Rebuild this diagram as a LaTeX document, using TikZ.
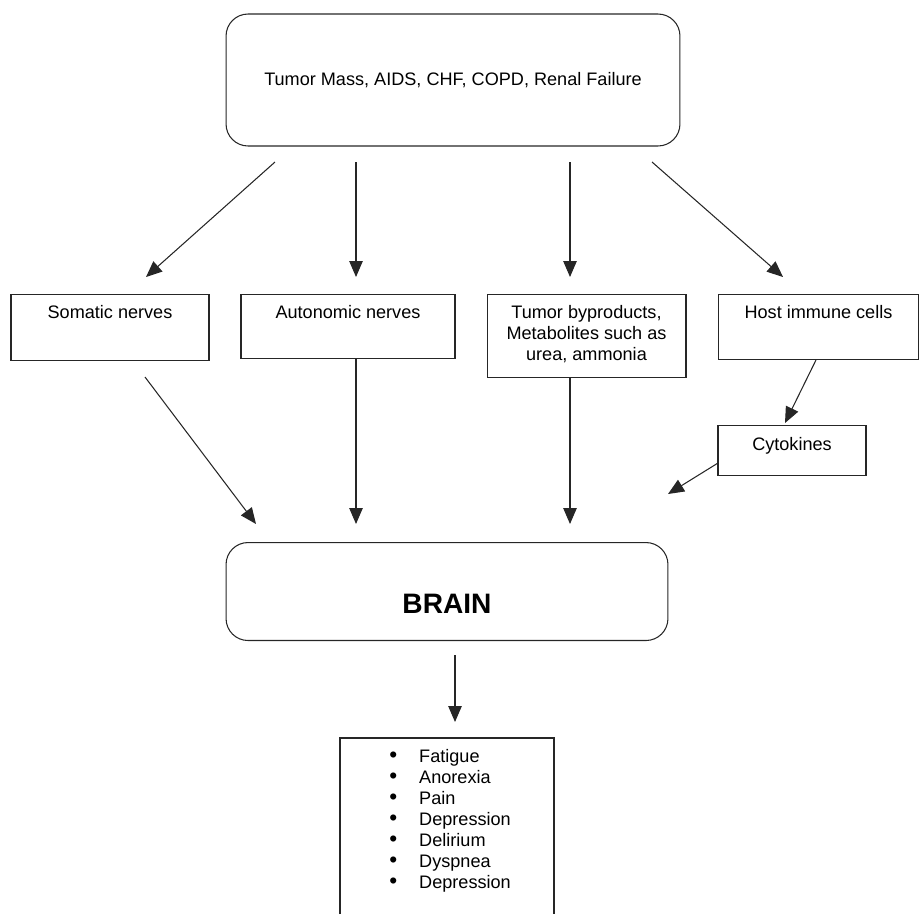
\documentclass[tikz,border=0pt]{standalone}
\usepackage{fontspec}
\setmainfont{Liberation Sans}
\usetikzlibrary{arrows.meta}
\tikzset{
	box/.style={draw=black!85, line width=0.6pt, rectangle, inner xsep=0pt, inner ysep=0pt, anchor=north, align=center},
	roundbox/.style={box, rounded corners=0.44cm},
	arr/.style={draw=black!85, line width=0.6pt, -{Triangle[length=0.32cm,width=0.27cm]}}
}
\newcommand{\bul}{\scalebox{1.25}{\textbullet}}
\begin{document}
\begin{tikzpicture}[x=0.02cm, y=-0.02cm, font=\fontsize{10.3}{12}\selectfont]
	\useasboundingbox (0,0) rectangle (919,914);
	% causes
	\node[roundbox, anchor=center, minimum width=9.08cm, minimum height=2.64cm] (disease) at (453,80) {Tumor Mass, AIDS, CHF, COPD, Renal Failure};
	% pathways
	\node[box, minimum width=3.96cm, text height=0.48cm, text depth=0.84cm] (somatic) at (110,294) {Somatic nerves};
	\node[box, minimum width=4.28cm, text height=0.48cm, text depth=0.8cm] (autonomic) at (348,294) {Autonomic nerves};
	\node[box, minimum width=3.98cm, text height=1.32cm, text depth=0.34cm] (byproducts) at (586.5,294) {Tumor byproducts,\\ Metabolites such as\\ urea, ammonia};
	\node[box, minimum width=4.02cm, text height=0.48cm, text depth=0.82cm] (immune) at (818.5,294) {Host immune cells};
	\node[box, minimum width=2.96cm, text height=0.5cm, text depth=0.5cm] (cytokines) at (792,425) {Cytokines};
	% brain
	\node[roundbox, minimum width=8.84cm, text height=1.42cm, text depth=0.54cm, font=\fontsize{16}{19}\selectfont\bfseries] (brain) at (447,542) {BRAIN};
	% symptoms
	\node[anchor=base west, inner sep=0pt] (symptoms) at (389,762) {\begin{tabular}[t]{@{}l@{\hspace{12.5pt}}l@{}}
		\bul & Fatigue\\
		\bul & Anorexia\\
		\bul & Pain\\
		\bul & Depression\\
		\bul & Delirium\\
		\bul & Dyspnea\\
		\bul & Depression
	\end{tabular}};
	\draw[draw=black!85, line width=0.6pt] (340,914) |- (554,738) -- (554,914);
	% arrow ends
	\path (275,162) coordinate (d1) (356,162) coordinate (d2)
		(570,162) coordinate (d3) (652,162) coordinate (d4)
		(146,277) coordinate (s1) (356,277) coordinate (a1)
		(570,277) coordinate (t1) (783,277) coordinate (h1)
		(145,377) coordinate (s2) (356,359) coordinate (a2)
		(570,377) coordinate (t2) (816,360) coordinate (h2)
		(785,423) coordinate (c1) (718,463) coordinate (c2)
		(256,524) coordinate (b1) (356,524) coordinate (b2)
		(570,524) coordinate (b3) (668,494) coordinate (b4)
		(455,655) coordinate (o1) (455,722) coordinate (o2);
	\draw[arr] (d1) -- (s1);
	\draw[arr] (d2) -- (a1);
	\draw[arr] (d3) -- (t1);
	\draw[arr] (d4) -- (h1);
	\draw[arr] (s2) -- (b1);
	\draw[arr] (a2) -- (b2);
	\draw[arr] (t2) -- (b3);
	\draw[arr] (h2) -- (c1);
	\draw[arr] (c2) -- (b4);
	\draw[arr] (o1) -- (o2);
\end{tikzpicture}
\end{document}
